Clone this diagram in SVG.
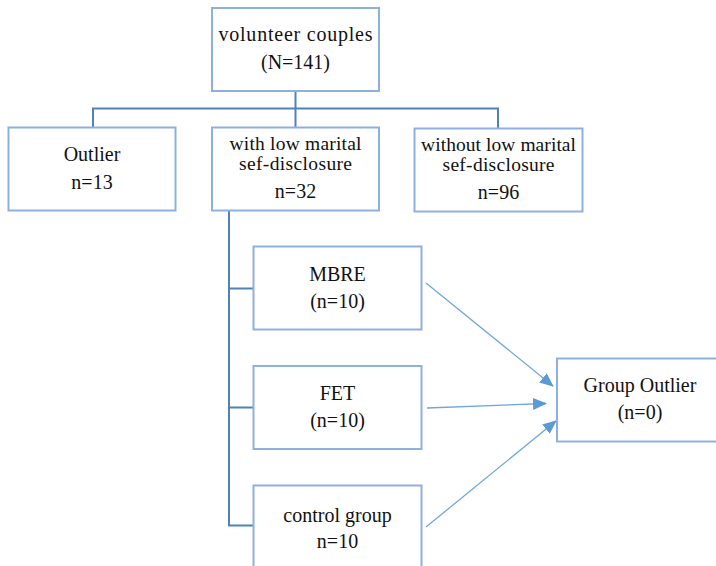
<svg xmlns="http://www.w3.org/2000/svg" width="716" height="566" viewBox="0 0 716 566" font-family="'Liberation Serif', 'Times New Roman', serif">
<defs>
<style>
.box{fill:#fff;stroke:#8eb0e0;stroke-width:2}
.ln{fill:none;stroke:#4f83b8;stroke-width:2}
.ar{fill:none;stroke:#6fa6dc;stroke-width:1.3}
text{font-family:'Liberation Serif','Times New Roman',serif;font-size:20px;fill:#111;text-anchor:middle}
.sm{font-size:19.5px}
</style>
<marker id="ah" markerWidth="14" markerHeight="12" refX="13" refY="6" orient="auto" markerUnits="userSpaceOnUse" viewBox="0 0 14 12">
<path d="M0,0 L14,6 L0,12 z" fill="#5b9bd5"/>
</marker>
</defs>
<rect width="716" height="566" fill="#fff"/>
<g id="connectors">
<path class="ln" d="M295.5,91 V108.5 M93,127 V108.5 H498 V128"/>
<path class="ln" d="M295.5,108.5 V127"/>
<path class="ln" d="M229,210 V525.5 H253 M229,288.5 H253 M229,407.5 H253"/>
<line class="ar" x1="426" y1="283" x2="553" y2="386" marker-end="url(#ah)"/>
<line class="ar" x1="427" y1="408" x2="546" y2="403.5" marker-end="url(#ah)"/>
<line class="ar" x1="426" y1="527" x2="556" y2="421" marker-end="url(#ah)"/>
</g>
<g id="n-volunteer">
<rect class="box" x="212" y="8" width="167" height="83"/>
<text x="295.5" y="41" textLength="154" lengthAdjust="spacing">volunteer couples</text>
<text x="295.5" y="69">(N=141)</text>
</g>
<g id="n-outlier">
<rect class="box" x="8.5" y="127.5" width="167" height="83"/>
<text x="92" y="161">Outlier</text>
<text x="92" y="189">n=13</text>
</g>
<g id="n-low">
<rect class="box" x="212" y="127.5" width="167" height="83"/>
<text class="sm" x="295.5" y="150" textLength="132" lengthAdjust="spacing">with low marital</text>
<text class="sm" x="295.5" y="170" textLength="113" lengthAdjust="spacing">sef-disclosure</text>
<text x="295.5" y="198">n=32</text>
</g>
<g id="n-without">
<rect class="box" x="414.5" y="128.5" width="168" height="83"/>
<text class="sm" x="498.5" y="151" textLength="155" lengthAdjust="spacing">without low marital</text>
<text class="sm" x="498.5" y="171" textLength="112" lengthAdjust="spacing">sef-disclosure</text>
<text x="498.5" y="199">n=96</text>
</g>
<g id="n-mbre">
<rect class="box" x="253.5" y="246.5" width="168" height="83"/>
<text x="337.5" y="281">MBRE</text>
<text x="337.5" y="308">(n=10)</text>
</g>
<g id="n-fet">
<rect class="box" x="253.5" y="366" width="168" height="83"/>
<text x="337.5" y="400">FET</text>
<text x="337.5" y="427">(n=10)</text>
</g>
<g id="n-control">
<rect class="box" x="253.5" y="485.5" width="168" height="90"/>
<text x="337.5" y="522">control group</text>
<text x="337.5" y="548">n=10</text>
</g>
<g id="n-group-outlier">
<rect class="box" x="557" y="358.5" width="170" height="83"/>
<text x="640" y="392">Group Outlier</text>
<text x="640" y="419">(n=0)</text>
</g>
</svg>
